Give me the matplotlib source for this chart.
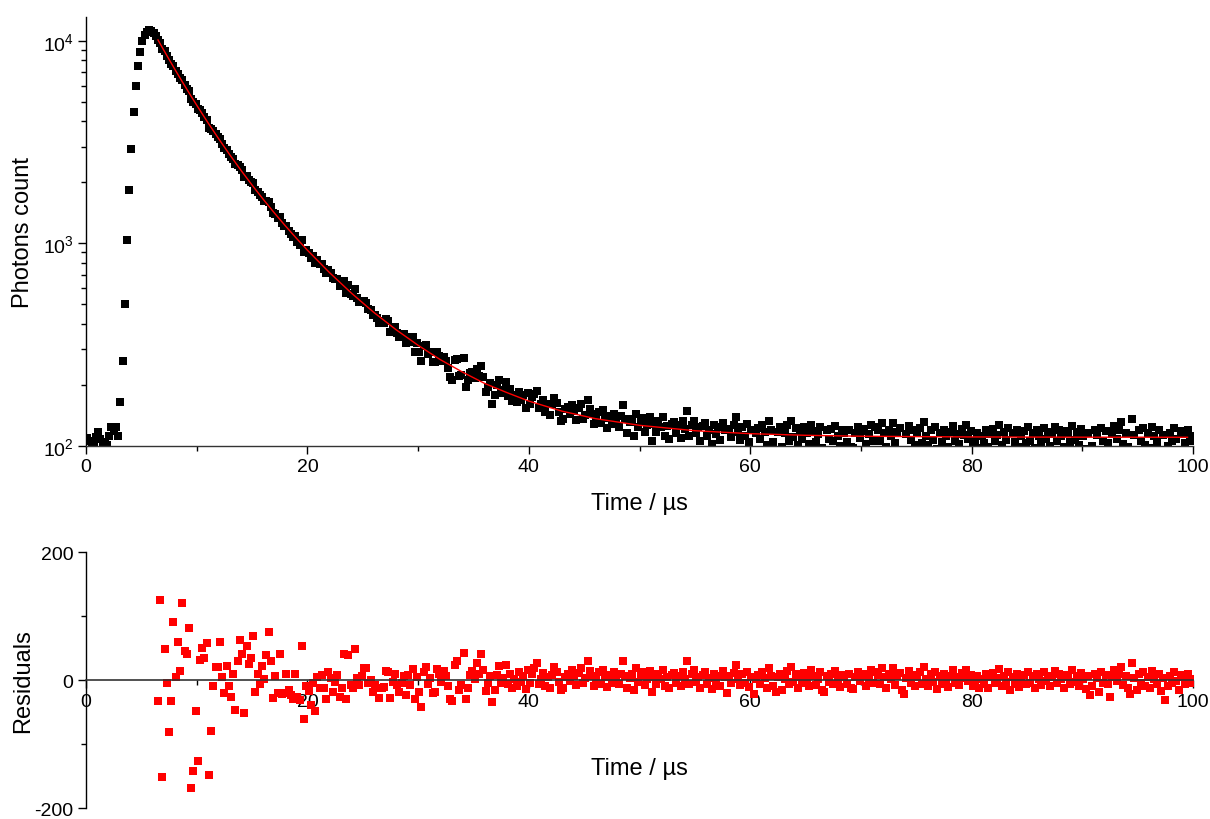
import numpy as np
import matplotlib
matplotlib.use("Agg")
import matplotlib.pyplot as plt
from matplotlib.ticker import MultipleLocator, NullFormatter, LogLocator

plt.rcParams['font.family'] = ['Liberation Sans', 'DejaVu Sans']
plt.rcParams['mathtext.fontset'] = 'custom'
plt.rcParams['mathtext.rm'] = 'Liberation Sans'
plt.rcParams['mathtext.it'] = 'Liberation Sans:italic'
plt.rcParams['mathtext.bf'] = 'Liberation Sans:bold'
plt.rcParams['mathtext.default'] = 'rm'
plt.rcParams['axes.unicode_minus'] = False

# decay histogram (photon counts), channel width 0.2 us, first channel at 0.1 us
photon_counts = [
    109, 106, 104, 103, 110, 117, 108, 104, 103, 101,
    112, 123, 118, 124, 112, 164, 261, 499, 1035, 1828,
    2917, 4470, 5970, 7460, 8790, 10000, 10700, 11100, 11300, 11200,
    10900, 10500,
    10055, 9772, 9075, 8878, 8445, 8009, 7714, 7511, 7114, 6873,
    6546, 6385, 6054, 5805, 5614, 5143, 4959, 4851, 4581, 4556,
    4400, 4217, 4082, 3723, 3648, 3579, 3475, 3349, 3267, 3098,
    2962, 2898, 2765, 2650, 2593, 2448, 2439, 2391, 2290, 2123,
    2156, 2059, 2003, 1973, 1825, 1794, 1723, 1697, 1624, 1612,
    1600, 1508, 1407, 1398, 1331, 1351, 1251, 1216, 1210, 1153,
    1111, 1074, 1083, 1017, 984, 1041, 900, 927, 895, 848,
    860, 794, 825, 788, 788, 749, 712, 736, 709, 671,
    669, 664, 615, 613, 652, 569, 623, 563, 546, 595,
    537, 515, 517, 518, 507, 475, 469, 442, 442, 428,
    405, 411, 405, 422, 413, 364, 382, 387, 362, 344,
    352, 357, 320, 346,
    324, 343, 291, 320, 291, 263, 312, 314, 284, 289,
    259, 258, 289, 278, 261, 274, 262, 243, 219, 212,
    265, 268, 220, 224, 270, 195, 211, 228, 231, 217,
    238, 220, 247, 219, 185, 195, 203, 161, 178, 199,
    211, 183, 188, 207, 175, 190, 166, 177, 165, 185,
    168, 177, 154, 182, 161, 173, 180, 187, 153, 160,
    168, 146, 160, 141, 161, 172, 163, 147, 133, 135,
    151, 155, 143, 159, 149, 134, 153, 160, 135, 142,
    168, 152, 144, 128, 138, 147, 129, 150, 137, 122,
    140, 128, 144, 132, 123, 140, 158, 135, 116, 131,
    136, 112, 144, 123, 132, 137, 117, 126, 138, 105,
    128, 117, 132, 123, 138, 112, 125, 108, 128, 131,
    116, 126, 109, 132, 121, 148, 111, 127, 133, 115,
    123, 106, 125, 129, 111, 120, 102, 126, 114, 123,
    107, 130, 120, 94, 121, 110, 126, 138, 117, 107,
    124, 111, 128, 104, 120, 92, 115, 122, 108, 126,
    117, 101, 132, 120, 104, 95, 117, 123, 98, 115,
    127, 106, 133, 110, 122, 101, 118,
    108, 123, 115, 102, 127, 118, 104, 114, 124, 97,
    94, 119, 108, 121, 105, 125, 112, 100, 119, 115,
    104, 120, 98, 97, 116, 124, 109, 118, 121, 102,
    114, 127, 106, 123, 119, 105, 130, 115, 99, 120,
    112, 130, 103, 117, 122, 95, 89, 114, 125, 107,
    119, 101, 115, 122, 103, 131, 112, 101, 120, 107,
    123, 96, 116, 104, 119, 111, 99, 117, 125, 105,
    114, 102, 121, 113, 126, 108, 118, 100, 106, 116,
    97, 112, 103, 119, 98, 114, 121, 105, 113, 127,
    101, 117, 107, 122, 95, 115, 104, 120, 99, 111,
    118, 103, 123, 106, 116, 97, 119, 112, 102, 122,
    108, 117, 100, 114, 124, 105, 120, 111, 98, 118,
    115, 104, 125, 107, 117, 101, 121, 112, 96, 116,
    86, 100, 119, 113, 92, 122, 105, 118, 103, 84,
    114, 125, 108, 120, 131, 102, 116, 98, 88, 136,
    113, 95, 119, 106, 122, 101, 115, 97, 124, 111,
    104, 120, 93, 113, 79, 100, 116, 105, 122, 108,
    95, 118, 114, 103, 120, 112, 106,
]

# fitted decay curve
fit_time = [6.5, 7, 7.5, 8, 8.5, 9, 9.5, 10, 10.5, 11, 12, 13, 14, 15, 16, 17,
            18, 19, 20, 22, 24, 26, 28, 30, 32, 34, 36, 38, 40, 43, 46, 50,
            55, 60, 65, 70, 80, 90, 99.5]
fit_counts = [10088, 9026, 8090, 7262, 6532, 5887, 5311, 4802, 4350, 3947,
              3268, 2726, 2289, 1936, 1649, 1413, 1219, 1058, 923, 715, 565,
              455, 374, 313, 266, 231, 203, 183, 166, 148, 136, 126, 118.5,
              114.6, 112.5, 111.3, 110.4, 110.1, 110]

# residuals of the fit, starting at 6.5 us
residuals = [
    -33, 125, -152, 49, -5, -81, -33, 90, 4, 59,
    14, 121, 46, 40, 82, -168, -142, -48, -127, 31,
    50, 34, 58, -149, -79, -9, 20, 20, 59, 5,
    -20, 22, -9, -27, 9, -47, 29, 63, 40, -52,
    53, 25, 35, 69, -18, 9, -6, 22, 1, 39,
    75, 29, -28, 6, -20, 40, -22, -21, 9, -15,
    -24, -29, 10, -26, -31, 53, -61, -9, -17, -39,
    -5, -48, 4, -12, 8, -12, -30, 13, 3, -18,
    -3, 8, -26, -13, 40, -29, 39, -8, -12, 49,
    3, -8, 6, 18, 18, -5, 0, -18, -8, -13,
    -28, -13, -11, 14, 13, -28, -3, 10, -8, -19,
    -5, 7, -24, 8,
    -8, 17, -29, 5, -18, -42, 12, 20, -6, 3,
    -21, -18, 17, 10, -3, 14, 6, -10, -29, -33,
    23, 30, -15, -8, 42, -30, -12, 8, 14, 2,
    26, 10, 40, 15, -17, -5, 6, -34, -15, 8,
    22, -4, 3, 24, -6, 10, -12, 1, -9, 12,
    -3, 7, -14, 16, -4, 9, 18, 26, -7, 2,
    11, -10, 5, -13, 8, 20, 12, -3, -16, -13,
    4, 9, -2, 15, 6, -8, 11, 19, -5, 3,
    29, 14, 7, -9, 2, 12, -6, 16, 4, -11,
    8, -4, 13, 1, -7, 10, 29, 6, -12, 3,
    9, -15, 18, -3, 7, 12, -8, 2, 14, -18,
    5, -6, 10, 1, 16, -9, 4, -13, 8, 11,
    -4, 6, -10, 13, 2, 29, -7, 9, 15, -3,
    5, -12, 8, 12, -6, 3, -14, 10, -2, 7,
    -9, 14, 4, -21, 6, -5, 11, 23, 2, -8,
    9, -4, 13, -11, 5, -22, 1, 8, -6, 12,
    3, -13, 18, 6, -9, -18, 4, 10, -15, 2,
    14, -7, 20, -3, 9, -12, 5,
    -4, 11, 3, -10, 15, 6, -8, 2, 12, -15,
    -18, 7, -3, 10, -6, 14, 1, -11, 8, 4,
    -7, 9, -13, -14, 5, 13, -2, 7, 10, -9,
    3, 16, -5, 12, 8, -6, 19, 4, -12, 9,
    1, 19, -8, 6, 11, -16, -22, 3, 14, -4,
    8, -10, 5, 12, -7, 21, 2, -9, 10, -3,
    13, -14, 6, -6, 9, 1, -11, 7, 15, -5,
    4, -8, 11, 3, 16, -2, 8, -10, -4, 6,
    -13, 2, -7, 9, -12, 4, 11, -5, 3, 17,
    -9, 7, -3, 12, -15, 5, -6, 10, -11, 1,
    8, -7, 13, -4, 6, -13, 9, 2, -8, 12,
    -2, 7, -10, 4, 14, -5, 10, 1, -12, 8,
    5, -6, 15, -3, 7, -9, 11, 2, -14, 6,
    -24, -10, 9, 3, -18, 12, -5, 8, -7, -26,
    4, 15, -2, 10, 21, -8, 6, -12, -22, 26,
    3, -15, 9, -4, 12, -9, 5, -13, 14, 1,
    -6, 10, -17, 3, -31, -10, 6, -5, 12, -2,
    -15, 8, 4, -7, 10, 2, -4,
]

channel_width = 0.2
time_counts = 0.1 + channel_width * np.arange(len(photon_counts))
time_resid = 6.5 + channel_width * np.arange(len(residuals))

fig = plt.figure(figsize=(12.1, 8.2), dpi=100)
ax1 = fig.add_axes([0.0711, 0.4553, 0.9149, 0.5227])
ax2 = fig.add_axes([0.0711, 0.0134, 0.9149, 0.3122])

ax1.plot(time_counts, photon_counts, 's', color='black', markersize=6.3,
         markeredgewidth=0, zorder=2)
ax1.plot(fit_time, fit_counts, '-', color='#ff0000', linewidth=1.0, zorder=3)
ax1.set_yscale('log')
ax1.set_xlim(0, 100)
ax1.set_ylim(100, 13090)
ax1.xaxis.set_major_locator(MultipleLocator(20))
ax1.xaxis.set_minor_locator(MultipleLocator(10))
ax1.yaxis.set_major_locator(LogLocator(base=10))
ax1.yaxis.set_minor_locator(LogLocator(base=10, subs=np.arange(2, 10)))
ax1.yaxis.set_minor_formatter(NullFormatter())
ax1.set_xlabel('Time / µs', fontsize=17)
ax1.set_ylabel('Photons count', fontsize=17)
ax1.xaxis.set_label_coords(0.5, -0.107)
ax1.yaxis.set_label_coords(-0.047, 0.5)

ax2.plot(time_resid, residuals, 's', color='#ff0000', markersize=6.3,
         markeredgewidth=0, zorder=2)
ax2.set_xlim(0, 100)
ax2.set_ylim(-200, 200)
ax2.spines['bottom'].set_position(('data', 0))
ax2.spines['bottom'].set_color('#333333')
ax2.spines['bottom'].set_linewidth(1.2)
ax2.xaxis.set_major_locator(MultipleLocator(20))
ax2.xaxis.set_minor_locator(MultipleLocator(10))
ax2.yaxis.set_major_locator(MultipleLocator(200))
ax2.yaxis.set_minor_locator(MultipleLocator(100))
ax2.set_xlabel('Time / µs', fontsize=17)
ax2.set_ylabel('Residuals', fontsize=17)
ax2.xaxis.set_label_coords(0.5, 0.2)
ax2.yaxis.set_label_coords(-0.047, 0.5)

for ax in (ax1, ax2):
    ax.spines['top'].set_visible(False)
    ax.spines['right'].set_visible(False)
    ax.spines['left'].set_linewidth(1.0)
    ax.tick_params(which='major', direction='out', length=6, width=1,
                   labelsize=14, pad=3)
    ax.tick_params(which='minor', direction='out', length=3.5, width=1)
ax1.spines['bottom'].set_linewidth(1.0)
ax1.spines['bottom'].set_color('#333333')

fig.savefig('out.png', dpi=100)
